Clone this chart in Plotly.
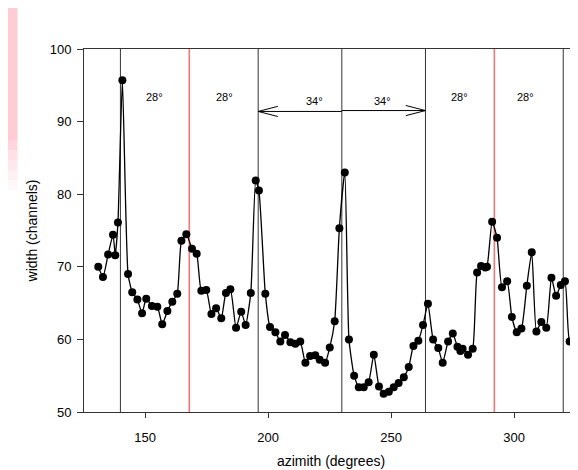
import plotly.graph_objects as go

azimuth = [131.0, 132.9, 135.0, 137.0, 137.9, 139.0, 140.8, 143.1, 144.8, 146.9,
           148.8, 150.5, 152.8, 155.0, 157.0, 159.1, 161.1, 163.1, 164.8, 166.8,
           169.1, 171.0, 172.9, 174.9, 177.0, 178.9, 181.0, 182.9, 184.7, 187.0,
           189.1, 190.9, 193.0, 195.0, 196.3, 198.9, 200.8, 203.0, 205.0, 206.9,
           209.1, 211.1, 213.1, 215.2, 217.1, 219.2, 221.0, 223.2, 225.1, 227.1,
           229.0, 231.2, 232.9, 235.0, 236.9, 238.9, 240.9, 243.0, 245.1, 247.0,
           249.1, 251.1, 253.1, 255.2, 257.2, 259.1, 261.1, 263.0, 265.0, 267.1,
           269.2, 271.0, 273.2, 275.1, 277.0, 278.2, 279.1, 281.3, 283.2, 285.0,
           286.6, 288.3, 289.0, 291.1, 293.1, 295.1, 297.2, 299.1, 301.1, 303.0,
           305.2, 307.2, 309.1, 311.1, 313.1, 315.2, 317.1, 319.0, 320.7, 322.6,
           324.5, 325.7]
width_ch = [70.0, 68.6, 71.7, 74.4, 71.6, 76.1, 95.7, 69.0, 66.5, 65.5,
            63.6, 65.6, 64.6, 64.5, 62.1, 63.9, 65.2, 66.3, 73.6, 74.5,
            72.5, 71.8, 66.7, 66.8, 63.5, 64.3, 62.9, 66.4, 66.9, 61.6,
            63.8, 62.0, 66.4, 81.9, 80.5, 66.3, 61.7, 61.0, 59.7, 60.6,
            59.6, 59.4, 59.7, 56.8, 57.7, 57.8, 57.2, 56.8, 58.9, 62.5,
            75.3, 83.0, 60.0, 55.0, 53.4, 53.4, 54.1, 57.9, 53.5, 52.5,
            52.8, 53.4, 54.0, 54.8, 56.2, 59.1, 59.8, 62.0, 64.9, 60.0,
            58.8, 56.8, 59.7, 60.8, 59.0, 58.4, 58.7, 57.9, 58.7, 69.2,
            70.1, 69.9, 70.0, 76.2, 74.0, 67.2, 68.0, 63.1, 61.0, 61.5,
            67.4, 72.0, 61.1, 62.4, 61.6, 68.5, 66.0, 67.5, 68.0, 59.7,
            59.6, 56.0]

black_lines = [140, 196, 230, 264, 320]
red_lines = [168, 292]
label_x = [154, 182.5, 219, 246.5, 278, 304.5]
label_y = [93.4, 93.4, 92.8, 92.8, 93.4, 93.4]
label_text = ["28°", "28°", "34°", "34°", "28°", "28°"]
arrow_y = 91.4

x_range = [125.2, 326.0]
y_range = [50, 100]

fig = go.Figure()
fig.add_trace(go.Scatter(
    x=azimuth, y=width_ch, mode="lines+markers",
    line=dict(color="black", width=1.3, shape="spline", smoothing=0.5),
    marker=dict(color="black", size=8),
    showlegend=False, cliponaxis=False))

shapes = []
for xv in black_lines:
    shapes.append(dict(type="line", xref="x", yref="paper", x0=xv, x1=xv, y0=0, y1=1,
                       line=dict(color="#333333", width=1), layer="below"))
for xv in red_lines:
    shapes.append(dict(type="line", xref="x", yref="paper", x0=xv, x1=xv, y0=0, y1=1,
                       line=dict(color="#f07878", width=1.6), layer="below"))

# double arrow
shapes.append(dict(type="line", xref="x", yref="y", x0=black_lines[1], x1=black_lines[2],
                   y0=arrow_y, y1=arrow_y, line=dict(color="black", width=1)))
shapes.append(dict(type="line", xref="x", yref="y", x0=black_lines[2], x1=black_lines[3],
                   y0=arrow_y + 0.12, y1=arrow_y + 0.12, line=dict(color="black", width=1)))
ah_len, ah_h = 8.0, 0.7
xl = black_lines[1]
shapes.append(dict(type="path", xref="x", yref="y",
                   path=f"M {xl+ah_len},{arrow_y+ah_h} L {xl},{arrow_y} L {xl+ah_len},{arrow_y-ah_h}",
                   line=dict(color="black", width=1)))
xr = black_lines[3]
shapes.append(dict(type="path", xref="x", yref="y",
                   path=f"M {xr-ah_len},{arrow_y+ah_h+0.12} L {xr},{arrow_y+0.12} L {xr-ah_len},{arrow_y-ah_h+0.12}",
                   line=dict(color="black", width=1)))

# pink strip at left edge of the card
x0p = -0.2
x1p = (17.5 - 84) / 494
ytop = 1.2
shapes.append(dict(type="rect", xref="paper", yref="paper", x0=x0p, x1=x1p,
                   y0=(412 - 140) / 363, y1=ytop,
                   fillcolor="#ffccd4", line=dict(width=0), layer="below"))
for i, op in enumerate([0.8, 0.6, 0.45, 0.3, 0.15]):
    shapes.append(dict(type="rect", xref="paper", yref="paper", x0=x0p, x1=x1p,
                       y0=(412 - 150 - 10 * i) / 363, y1=(412 - 140 - 10 * i) / 363,
                       fillcolor="#ffccd4", opacity=op, line=dict(width=0), layer="below"))

annotations = [dict(x=xv, y=yv, text=t, showarrow=False, xref="x", yref="y",
                    font=dict(size=11, color="black", family="Liberation Sans, Arial"))
               for xv, yv, t in zip(label_x, label_y, label_text)]

fig.update_layout(
    width=578, height=470,
    margin=dict(l=76, r=8, t=41, b=66),
    paper_bgcolor="white", plot_bgcolor="white",
    font=dict(family="Liberation Sans, Arial", color="black", size=13),
    shapes=shapes, annotations=annotations,
    xaxis=dict(range=x_range, showgrid=False, zeroline=False,
               showline=True, linecolor="#333333", linewidth=1, mirror=True,
               ticks="outside", ticklen=5, tickcolor="#333333",
               ticklabelstandoff=8,
               tickvals=[150, 200, 250, 300], tickfont=dict(size=13),
               title=dict(text="azimith (degrees)", font=dict(size=14), standoff=12)),
    yaxis=dict(range=y_range, showgrid=False, zeroline=False,
               showline=True, linecolor="#333333", linewidth=1,
               ticks="outside", ticklen=6, tickcolor="#333333",
               ticklabelstandoff=3,
               tickvals=[50, 60, 70, 80, 90, 100], tickfont=dict(size=13),
               title=dict(text="width (channels)", font=dict(size=14), standoff=8)),
)

fig.write_html("out.html")
